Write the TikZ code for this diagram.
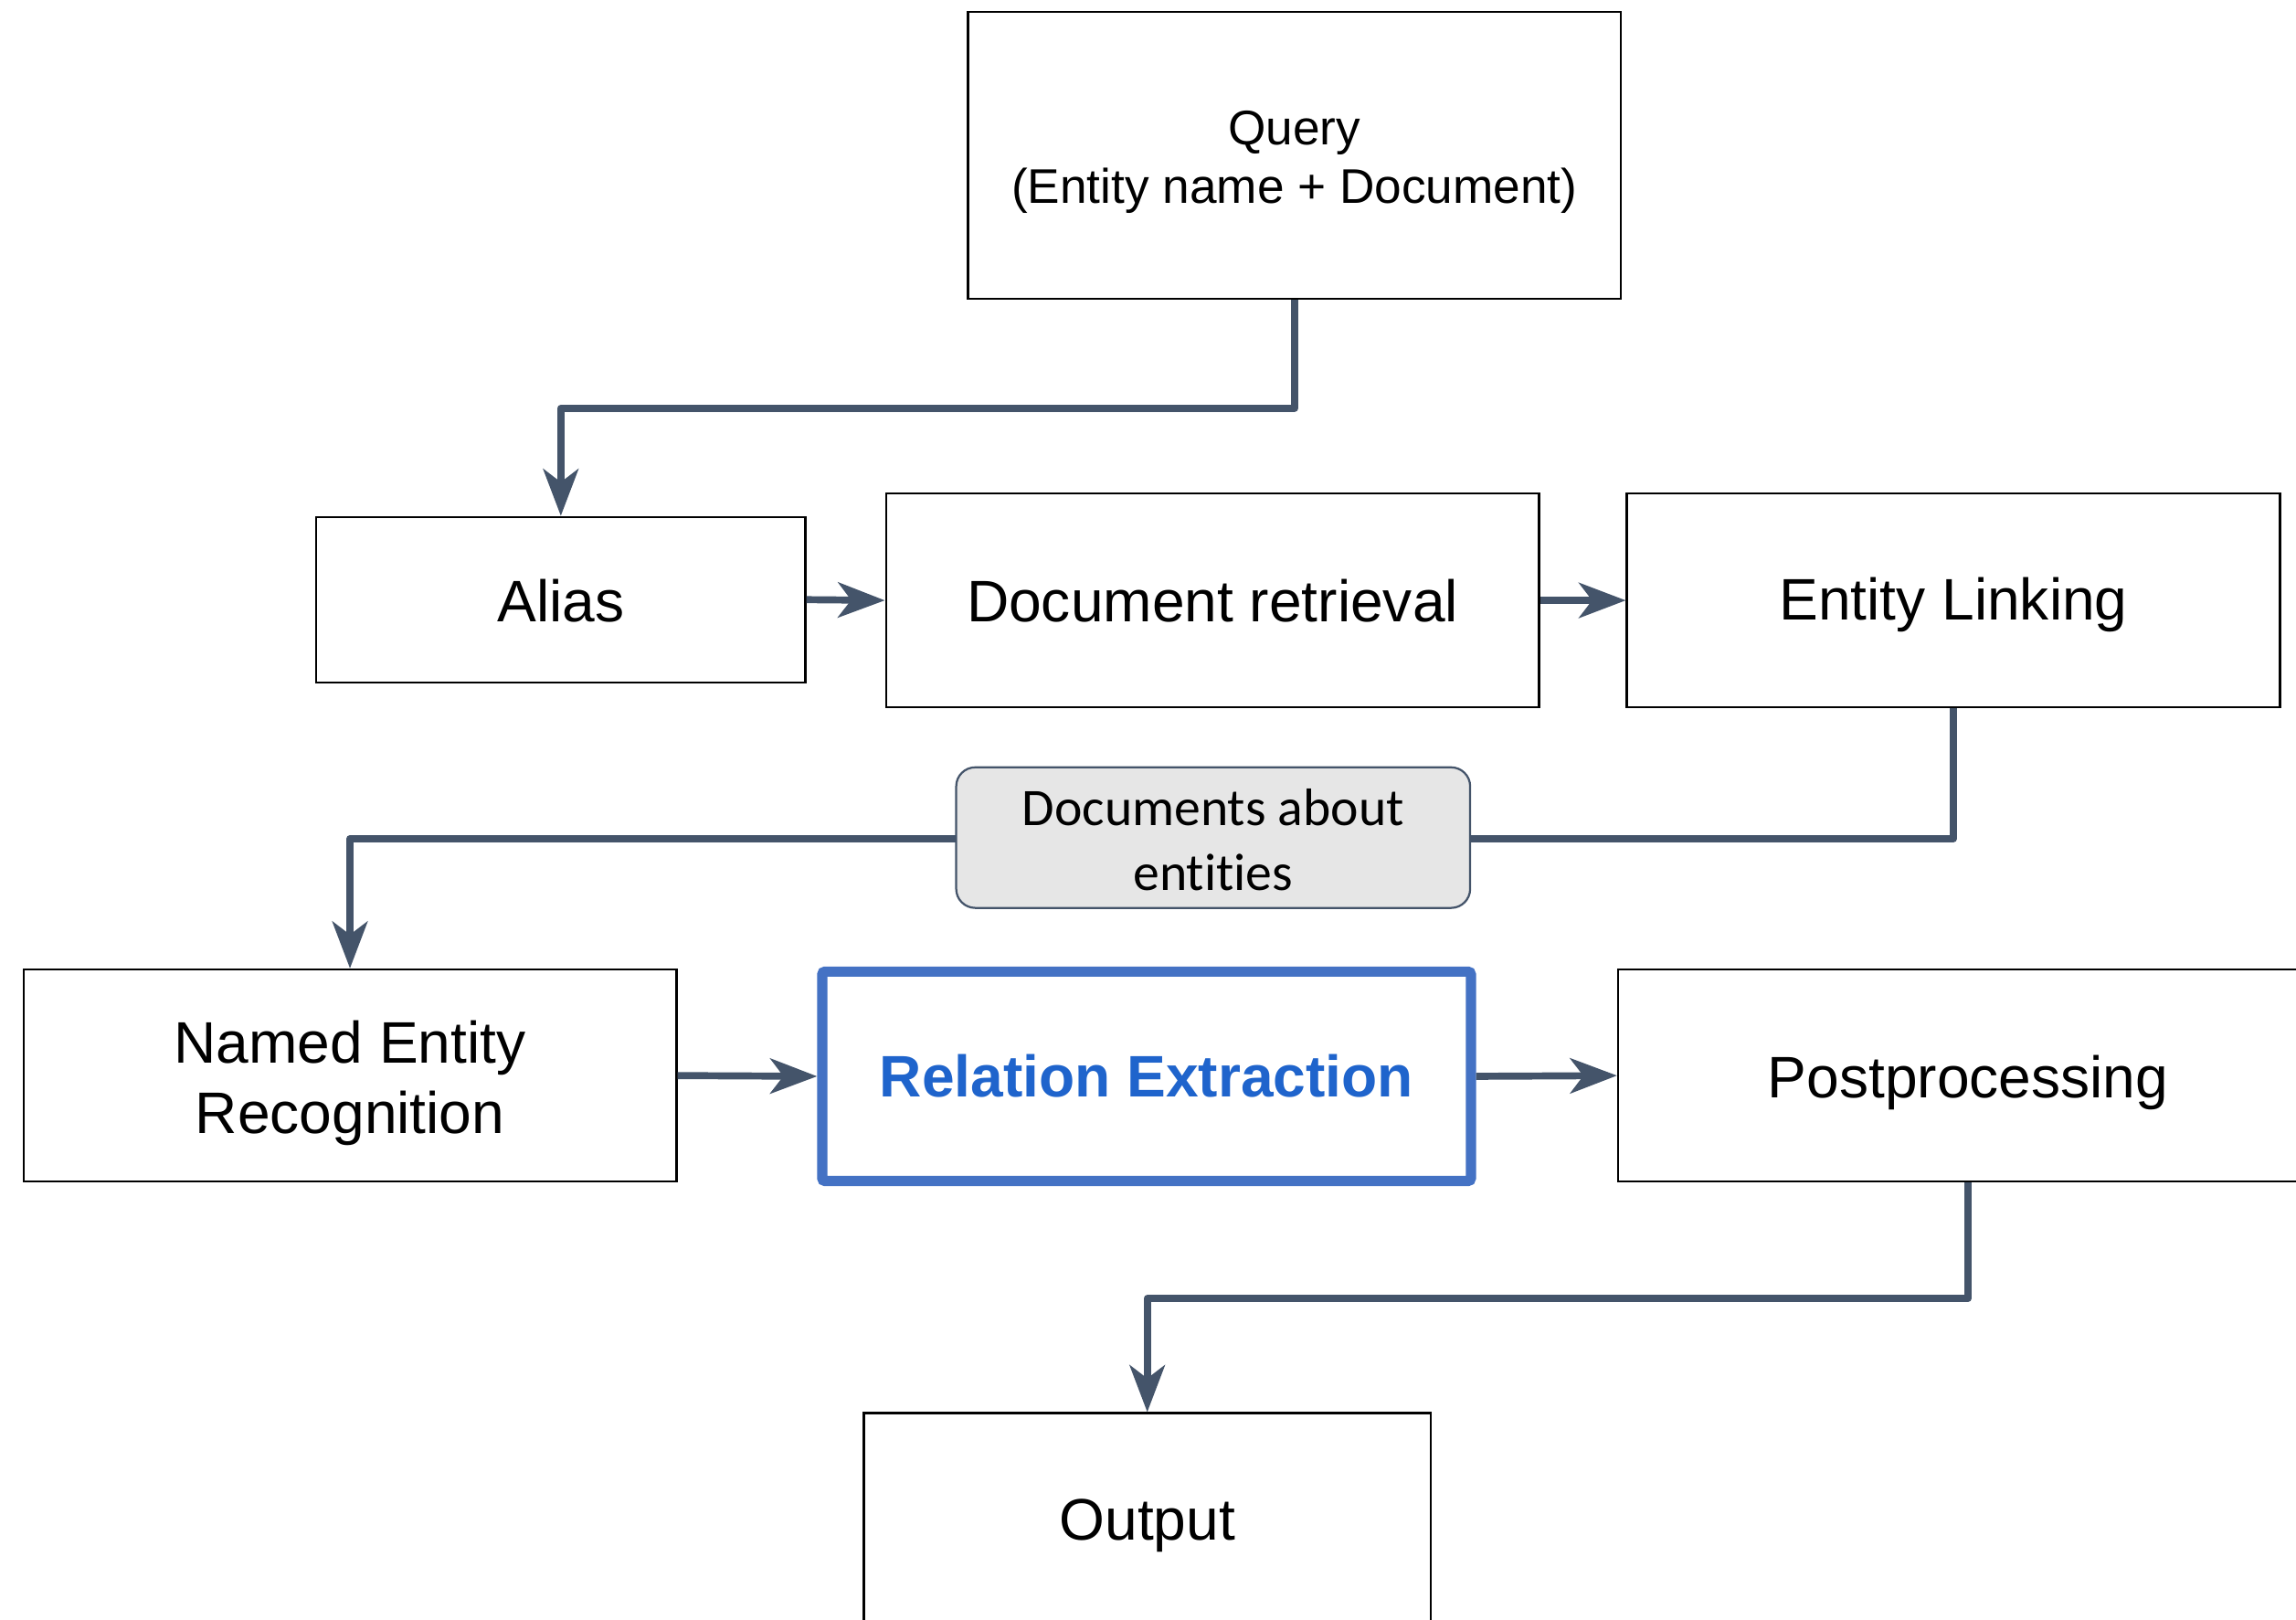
\documentclass[tikz,border=0pt]{standalone}
\usepackage{fontspec}
\setmainfont{Liberation Sans}
\newfontfamily\calibrifont[Ligatures=NoCommon]{Carlito}
\usetikzlibrary{arrows.meta}
\definecolor{conn}{HTML}{44546A}
\definecolor{reblue}{HTML}{4472C4}
\definecolor{retext}{HTML}{1F64CC}
\definecolor{lblfill}{HTML}{E6E6E6}
\begin{document}
\begin{tikzpicture}[x=0.5pt,y=-0.5pt,
  box/.style={draw=black, line width=0.7pt, fill=white, inner sep=0pt},
  rebox/.style={draw=reblue, line width=3.5pt, fill=white, inner sep=0pt, rounded corners=1pt},
  txt/.style={inner sep=0pt, align=center, font=\fontsize{20}{24}\selectfont},
  retxt/.style={txt, font=\fontsize{20}{24}\selectfont\bfseries, text=retext},
  lbl/.style={draw=conn, line width=0.7pt, fill=lblfill, rounded corners=6.5pt, inner sep=0pt},
  lbltxt/.style={inner sep=0pt, align=center, font=\calibrifont\fontsize{18}{22}\selectfont},
  conn/.style={draw=conn, line width=2.4pt, line join=round,
    -{Stealth[length=16pt,width=12pt,inset=4.5pt]}},
]
\useasboundingbox (0,0) rectangle (1568,1106);
\clip (0,0) rectangle (1568,1106);

\node[box, minimum width=223pt, minimum height=98pt] (q) at (884,106) {};
\node[box, minimum width=167pt, minimum height=56.5pt] (alias) at (383,409.5) {};
\node[box, minimum width=223pt, minimum height=73pt] (docret) at (828,410) {};
\node[box, minimum width=223pt, minimum height=73pt] (el) at (1334,410) {};
\node[box, minimum width=223pt, minimum height=72.5pt] (ner) at (239,734.5) {};
\node[rebox, minimum width=221.5pt, minimum height=71.5pt] (re) at (783,735) {};
\node[box, minimum width=239pt, minimum height=72.5pt] (post) at (1344,734.5) {};
\node[box, minimum width=193.5pt, minimum height=73pt] (out) at (783.5,1038) {};

\node[txt, font=\fontsize{16.6}{20}\selectfont, yshift=-2.5pt] (qt) at (q) {Query\\(Entity name + Document)};
\node[txt, yshift=-0.25pt] (aliast) at (alias) {Alias};
\node[txt] (docrett) at (docret) {Document retrieval};
\node[txt, yshift=-1.5pt] (elt) at (el) {Entity Linking};
\node[txt, yshift=-2.5pt] (nert) at (ner) {Named Entity\\Recognition};
\node[retxt] (ret) at (re) {Relation Extraction};
\node[txt, yshift=-2.5pt] (postt) at (post) {Postprocessing};
\node[txt, yshift=-2pt] (outt) at (out) {Output};

\draw[conn] (q.south) -- ++(0,74) -| (alias.north);
\draw[conn] (alias.east) -- (docret.west);
\draw[conn] (docret.east) -- (el.west);
\draw[conn] (el.south) -- ++(0,89) -| (ner.north);
\draw[conn] (ner.east) -- (re.west);
\draw[conn] (re.east) -- (post.west);
\draw[conn] (post.south) -- ++(0,79) -| (out.north);

\node[lbl, minimum width=175.5pt, minimum height=48pt] (lab) at (828.5,572) {};
\node[lbltxt, yshift=-0.75pt] (labt) at (lab) {Documents about\\entities};
\end{tikzpicture}
\end{document}
